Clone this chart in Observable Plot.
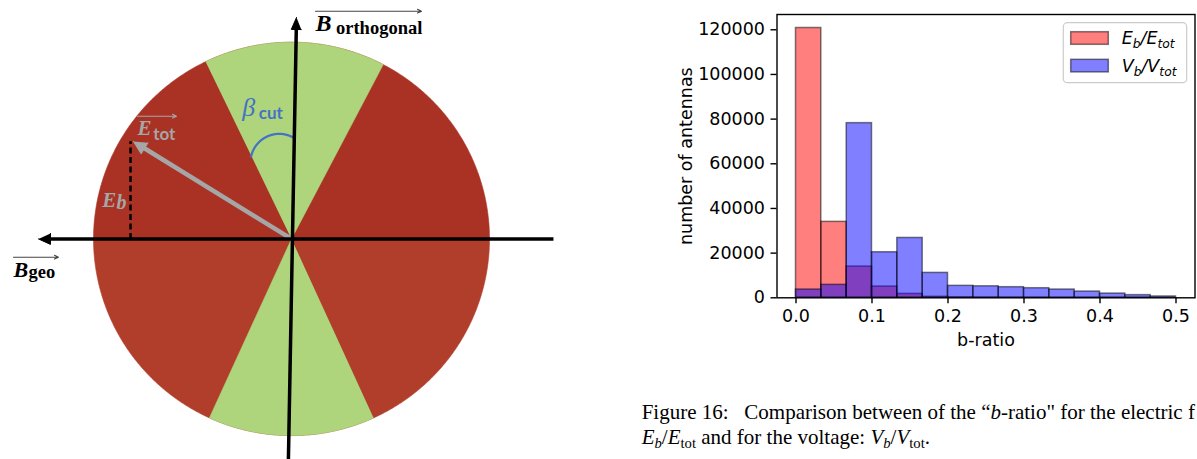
<!DOCTYPE html>
<html><head><meta charset="utf-8">
<script src="https://cdn.jsdelivr.net/npm/d3@7"></script>
<script src="https://cdn.jsdelivr.net/npm/@observablehq/plot@0.6"></script>
<style>
html,body{margin:0;padding:0;background:#fff;width:1197px;height:459px;overflow:hidden;position:relative;}
#diagram{position:absolute;left:0;top:0;}
#hist{position:absolute;left:660px;top:0;}
#legend{position:absolute;left:0;top:0;pointer-events:none;}
#caption{position:absolute;left:641.7px;top:400.4px;font-family:"Liberation Serif",serif;font-size:21px;line-height:25px;white-space:nowrap;color:#000;}
#caption .s{font-size:0.7em;vertical-align:-0.25em;line-height:0;}
#caption .gap{display:inline-block;width:10.5px;}
</style></head><body>
<div id="diagram"></div><div id="hist"></div><div id="legend"></div>
<div id="caption">Figure 16:<span class="gap"></span> Comparison between of the “<i>b</i>-ratio" for the electric f<br><i>E<span class="s">b</span></i>/<i>E</i><span class="s">tot</span> and for the voltage: <i>V<span class="s">b</span></i>/<i>V</i><span class="s">tot</span>.</div>
<script>
// ================= HISTOGRAM DATA =================
const binEdges = [0.0000, 0.0333, 0.0667, 0.1000, 0.1333, 0.1667, 0.2000, 0.2333, 0.2667, 0.3000, 0.3333, 0.3667, 0.4000, 0.4333, 0.4667, 0.5000];
const countsE = [120800, 34000, 14000, 5050, 1750, 450, 200, 120, 80, 50, 30, 20, 10, 5, 0];
const countsV = [3700, 5800, 78200, 20400, 26800, 11150, 5350, 5150, 4750, 4300, 3700, 2800, 1900, 1200, 600];
const yTicks = [0, 20000, 40000, 60000, 80000, 100000, 120000];
const xTicks = [0.0, 0.1, 0.2, 0.3, 0.4, 0.5];
const xLabel = "b-ratio";
const yLabel = "number of antennas";
const seriesColors = ["red", "blue"];
const legendParts = [
  [["E",0],["b",1],["/",0],["E",0],["tot",1]],
  [["V",0],["b",1],["/",0],["V",0],["tot",1]]
];

// ================= DIAGRAM GEOMETRY (unit circle, angles in degrees CCW from +x) =================
const redHalves = [{from: 0, to: 180, color: "#a93224"}, {from: 180, to: 360, color: "#b03e2a"}];
const greenWedges = [{from: 62.4, to: 115.7}, {from: 245.5, to: 294.5}];
const greenColor = "#aed57b";
const axisH = {x1: 1.323, y1: 0, x2: -1.278, y2: 0};
const axisV = {x1: -0.016, y1: -1.14, x2: 0.0253, y2: 1.1256};
const eTot = {x1: 0, y1: 0, x2: -0.798, y2: 0.495};
const eB = {x1: -0.813, y1: 0, x2: -0.813, y2: 0.497};
const betaArc = {cx: -0.062, cy: 0.389, r: 0.145, from: 59, to: 168};
const overlines = [
  {x1: 0.1212, x2: 0.6566, y: 1.1576, color: "#444"},
  {x1: -1.404, x2: -1.177, y: -0.093, color: "#444"},
  {x1: -0.7778, x2: -0.5808, y: 0.6238, color: "#a6a6a6"}
];
const labels = [
  {x: 0.1212, y: 1.056, main: "B", sub: "orthogonal", subDx: 20.5, subDy: 3, color: "#000",
   mf: "Liberation Serif", ms: 24, mw: "bold", mi: "italic", sf: "Liberation Serif", ss: 18.5, sw: "bold", si: "normal"},
  {x: -1.404, y: -0.1947, main: "B", sub: "geo", subDx: 15, subDy: 1, color: "#000",
   mf: "Liberation Serif", ms: 22, mw: "bold", mi: "italic", sf: "Liberation Serif", ss: 18.5, sw: "bold", si: "normal"},
  {x: -0.7778, y: 0.5257, main: "E", sub: "tot", subDx: 15.7, subDy: 4.3, color: "#a6a6a6",
   mf: "Liberation Serif", ms: 21, mw: "bold", mi: "italic", sf: "Lato", ss: 17, sw: "bold", si: "normal"},
  {x: -0.956, y: 0.1647, main: "E", sub: "b", subDx: 14.3, subDy: 2, color: "#a6a6a6",
   mf: "Liberation Serif", ms: 21, mw: "bold", mi: "italic", sf: "Liberation Serif", ss: 20, sw: "bold", si: "italic"},
  {x: -0.249, y: 0.6273, main: "β", sub: "cut", subDx: 16.6, subDy: 3.3, color: "#4472c4",
   mf: "Liberation Serif", ms: 26, mw: "normal", mi: "italic", sf: "Lato", ss: 17, sw: "bold", si: "normal"}
];
const viewX = [-1.4697, 1.5606];
const viewY = [-1.1215, 1.2120];

// ================= DIAGRAM =================
const DW = 600, DH = 459;
const kx = DW / (viewX[1] - viewX[0]);
const ky = DH / (viewY[1] - viewY[0]);
const rad = Math.PI / 180;
function sector(a0, a1) {
  const pts = [{x: 0, y: 0}];
  for (let a = a0; a < a1; a += 0.5) pts.push({x: Math.cos(a * rad), y: Math.sin(a * rad)});
  pts.push({x: Math.cos(a1 * rad), y: Math.sin(a1 * rad)});
  return pts;
}
function arcPts(c) {
  const pts = [];
  for (let a = c.from; a < c.to; a += 2) pts.push({x: c.cx + c.r * Math.cos(a * rad), y: c.cy + c.r * Math.sin(a * rad)});
  pts.push({x: c.cx + c.r * Math.cos(c.to * rad), y: c.cy + c.r * Math.sin(c.to * rad)});
  return pts;
}
function arrowParts(s, L, W) {
  const dxp = (s.x2 - s.x1) * kx, dyp = (s.y2 - s.y1) * ky;
  const len = Math.hypot(dxp, dyp), ux = dxp / len, uy = dyp / len;
  const bx = -ux * L, by = -uy * L, px = -uy * W, py = ux * W;
  const head = [
    {x: s.x2, y: s.y2},
    {x: s.x2 + (bx + px) / kx, y: s.y2 + (by + py) / ky},
    {x: s.x2 + (bx - px) / kx, y: s.y2 + (by - py) / ky}
  ];
  const shaft = {x1: s.x1, y1: s.y1, x2: s.x2 - ux * L * 0.8 / kx, y2: s.y2 - uy * L * 0.8 / ky};
  return {head, shaft};
}
const aH = arrowParts(axisH, 12, 5.5);
const aV = arrowParts(axisV, 12, 5);
const aE = arrowParts(eTot, 13, 6.5);

const dMarks = [];
for (const h of redHalves) dMarks.push(Plot.line(sector(h.from, h.to), {x: "x", y: "y", fill: h.color, stroke: h.color, strokeWidth: 0.6, curve: "linear"}));
for (const g of greenWedges) dMarks.push(Plot.line(sector(g.from, g.to), {x: "x", y: "y", fill: greenColor, stroke: greenColor, strokeWidth: 0.6, curve: "linear"}));
dMarks.push(Plot.link([eB], {x1: "x1", y1: "y1", x2: "x2", y2: "y2", stroke: "black", strokeWidth: 2.5, strokeDasharray: "6,3.5", strokeLinecap: "butt"}));
dMarks.push(Plot.link([aE.shaft], {x1: "x1", y1: "y1", x2: "x2", y2: "y2", stroke: "#a6a6a6", strokeWidth: 4.5, strokeLinecap: "butt"}));
dMarks.push(Plot.line(aE.head, {x: "x", y: "y", fill: "#a6a6a6", stroke: "#a6a6a6", strokeWidth: 1}));
dMarks.push(Plot.line(arcPts(betaArc), {x: "x", y: "y", stroke: "#4472c4", strokeWidth: 2.2, curve: "linear"}));
for (const a of [aH, aV]) {
  dMarks.push(Plot.link([a.shaft], {x1: "x1", y1: "y1", x2: "x2", y2: "y2", stroke: "black", strokeWidth: 3.5, strokeLinecap: "butt"}));
  dMarks.push(Plot.line(a.head, {x: "x", y: "y", fill: "black", stroke: "black", strokeWidth: 1}));
}
for (const o of overlines) dMarks.push(Plot.arrow([o], {x1: "x1", y1: "y", x2: "x2", y2: "y", stroke: o.color, strokeWidth: 1.1, headLength: 6, headAngle: 50}));
for (const l of labels) {
  dMarks.push(Plot.text([l], {x: "x", y: "y", text: "main", fill: l.color, fontFamily: l.mf, fontSize: l.ms, fontWeight: l.mw, fontStyle: l.mi, textAnchor: "start", lineAnchor: "bottom"}));
  dMarks.push(Plot.text([l], {x: "x", y: "y", text: "sub", dx: l.subDx, dy: l.subDy, fill: l.color, fontFamily: l.sf, fontSize: l.ss, fontWeight: l.sw, fontStyle: l.si, textAnchor: "start", lineAnchor: "bottom"}));
}
const diagram = Plot.plot({
  width: DW, height: DH, margin: 0,
  x: {domain: viewX, axis: null},
  y: {domain: viewY, axis: null},
  style: {background: "transparent", overflow: "visible"},
  marks: dMarks
});
document.getElementById("diagram").append(diagram);

// ================= HISTOGRAM =================
const rowsE = countsE.map((v, i) => ({x1: binEdges[i], x2: binEdges[i + 1], y: v}));
const rowsV = countsV.map((v, i) => ({x1: binEdges[i], x2: binEdges[i + 1], y: v}));
const HW = 537, HH = 360;
const hist = Plot.plot({
  width: HW, height: HH,
  marginLeft: 116.5, marginRight: 2.5, marginTop: 14, marginBottom: 62.7,
  x: {domain: [-0.025, 0.525]},
  y: {domain: [0, d3.max(countsE) * 1.05]},
  style: {fontFamily: "DejaVu Sans", fontSize: "17.5px", color: "black", background: "transparent", overflow: "visible"},
  marks: [
    Plot.rect(rowsE, {x1: "x1", x2: "x2", y1: 0, y2: "y", fill: seriesColors[0], fillOpacity: 0.5, stroke: "black", strokeOpacity: 0.5, strokeWidth: 1.5}),
    Plot.rect(rowsV, {x1: "x1", x2: "x2", y1: 0, y2: "y", fill: seriesColors[1], fillOpacity: 0.5, stroke: "black", strokeOpacity: 0.5, strokeWidth: 1.5}),
    Plot.frame({stroke: "black", strokeWidth: 1.4}),
    Plot.axisX({ticks: xTicks, tickFormat: d3.format(".1f"), tickSize: 6, tickPadding: 6, strokeWidth: 1.4, label: null}),
    Plot.axisY({ticks: yTicks, tickFormat: d3.format("d"), tickSize: 6, tickPadding: 6, strokeWidth: 1.4, label: null}),
    Plot.text([xLabel], {text: d => d, frameAnchor: "bottom", dy: 47.7, lineAnchor: "bottom", textAnchor: "middle"}),
    Plot.text([yLabel], {text: d => d, frameAnchor: "left", dx: -85, rotate: -90, lineAnchor: "bottom", textAnchor: "middle"})
  ]
});
document.getElementById("hist").append(hist);

// ================= LEGEND =================
const leg = d3.create("svg").attr("width", 1197).attr("height", 459).style("overflow", "visible");
leg.append("rect").attr("x", 1063.3).attr("y", 22.7).attr("width", 123.4).attr("height", 60).attr("rx", 4)
  .attr("fill", "white").attr("fill-opacity", 0.8).attr("stroke", "#cccccc").attr("stroke-width", 1.2);
seriesColors.forEach((c, i) => {
  const py = [31.7, 59.3][i];
  leg.append("rect").attr("x", 1070.7).attr("y", py).attr("width", 37.6).attr("height", 12.6)
    .attr("fill", c).attr("fill-opacity", 0.5).attr("stroke", "black").attr("stroke-opacity", 0.5).attr("stroke-width", 1.5);
  const t = leg.append("text").attr("x", 1121.7).attr("y", py + 6.3 + 6.4)
    .attr("font-family", "DejaVu Sans").attr("font-size", 17.5).attr("font-style", "italic").attr("fill", "black");
  let cur = 0;
  for (const [s, sub] of legendParts[i]) {
    const target = sub ? 3.8 : 0;
    const ts = t.append("tspan").attr("dy", target - cur).text(s);
    if (sub) ts.attr("font-size", 12.25);
    cur = target;
  }
});
document.getElementById("legend").append(leg.node());
</script>
</body></html>
